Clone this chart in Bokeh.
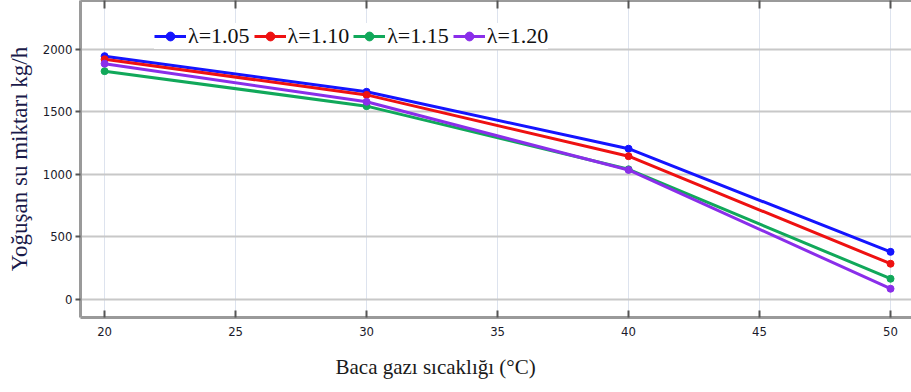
from bokeh.plotting import figure
from bokeh.models import Legend, LegendItem, FixedTicker, Title, Range1d, LinearAxis
from bokeh.embed import file_html
from bokeh.resources import INLINE

temps = [20, 30, 40, 50]
labels = ["λ=1.05", "λ=1.10", "λ=1.15", "λ=1.20"]
s105 = [1945, 1660, 1205, 380]
s110 = [1920, 1635, 1145, 285]
s115 = [1825, 1545, 1040, 165]
s120 = [1885, 1580, 1035, 85]
colors = ["#1414ff", "#ee1111", "#11a85a", "#8a2eea"]
x_ticks = [20, 25, 30, 35, 40, 45, 50]
y_ticks = [0, 500, 1000, 1500, 2000]

p = figure(width=911, height=392, output_backend="svg", toolbar_location=None,
           x_range=Range1d(19.08, 50.8), y_range=Range1d(-145, 2390),
           min_border_left=80, min_border_right=0, min_border_top=0, min_border_bottom=75)
p.outline_line_color = None

items = []
for lab, ys, c in zip(labels, [s105, s110, s115, s120], colors):
    r1 = p.line(temps, ys, line_color=c, line_width=3)
    r2 = p.scatter(temps, ys, size=7, fill_color=c, line_color=c)
    items.append(LegendItem(label=lab, renderers=[r1, r2]))

legend = Legend(items=items, orientation="horizontal", location=(74, 268),
                label_text_font="Liberation Serif", label_text_font_size="22px",
                label_text_color="#111111", glyph_width=32, glyph_height=22,
                spacing=4, padding=2, margin=0, label_standoff=2,
                border_line_color=None, background_fill_alpha=1.0)
p.add_layout(legend, "center")

p.xaxis.ticker = FixedTicker(ticks=x_ticks)
p.yaxis.ticker = FixedTicker(ticks=y_ticks)
for ax in (p.xaxis, p.yaxis):
    ax.axis_line_color = "#9a9a9a"
    ax.axis_line_width = 3
    ax.major_tick_line_color = "#555555"
    ax.major_tick_line_width = 2
    ax.minor_tick_line_color = None
    ax.major_label_text_font = "DejaVu Sans Condensed"
    ax.major_label_text_font_size = "13px"
    ax.major_label_text_color = "#1a1a2a"
p.xaxis.major_tick_in = 7
p.xaxis.major_tick_out = 0
p.xaxis.major_label_standoff = 9
p.yaxis.major_tick_in = 0
p.yaxis.major_tick_out = 5
p.yaxis.major_label_standoff = 3

top = LinearAxis(ticker=FixedTicker(ticks=x_ticks))
top.axis_line_color = "#9a9a9a"
top.axis_line_width = 3
top.major_tick_line_color = "#555555"
top.major_tick_line_width = 2
top.minor_tick_line_color = None
top.major_label_text_font_size = "0px"
top.major_label_text_alpha = 0
top.major_label_standoff = 0
top.major_tick_in = 8
top.major_tick_out = 0
p.add_layout(top, "above")

p.yaxis[0].axis_label = "Yoğuşan su miktarı kg/h"
p.yaxis[0].axis_label_text_font = "Liberation Serif"
p.yaxis[0].axis_label_text_font_style = "normal"
p.yaxis[0].axis_label_text_font_size = "23px"
p.yaxis[0].axis_label_text_color = "#1a1a4a"
p.yaxis[0].axis_label_standoff = 8

p.xgrid.grid_line_color = "#dde3ee"
p.xgrid.grid_line_width = 1
p.ygrid.grid_line_color = "#c8c8c8"
p.ygrid.grid_line_width = 2

t = Title(text="Baca gazı sıcaklığı (°C)", align="left", offset=255,
          text_font="Liberation Serif", text_font_size="21px",
          text_font_style="normal", text_color="#1a1a1a", standoff=28)
p.add_layout(t, "below")

open("out.html", "w").write(file_html(p, INLINE))
